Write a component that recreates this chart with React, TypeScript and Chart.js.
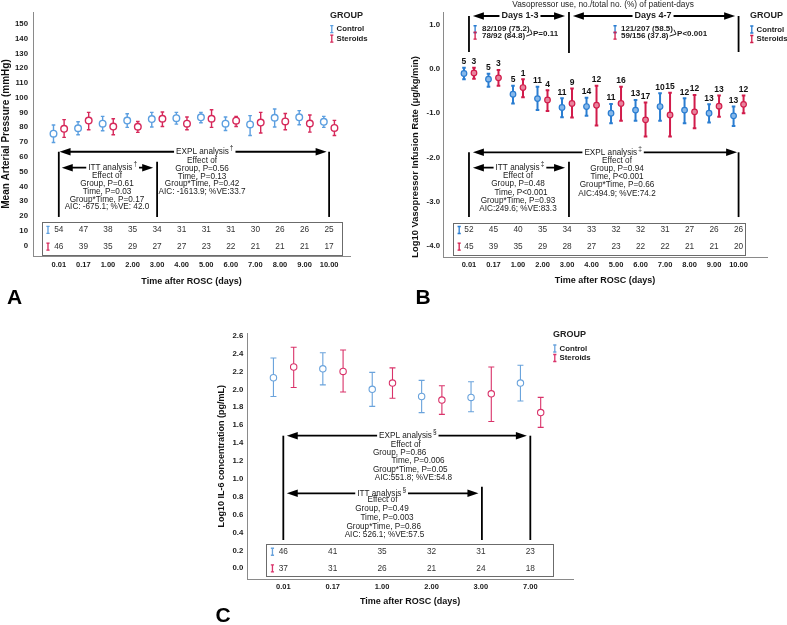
import React, { useEffect, useRef } from "react";
import { Chart, registerables } from "chart.js";

Chart.register(...registerables);

const W = 787;
const H = 625;
const FONT = '"Liberation Sans", Arial, Helvetica, sans-serif';

// ---------------- Panel A : Mean arterial pressure ----------------
const timeLabels12 = ["0.01", "0.17", "1.00", "2.00", "3.00", "4.00", "5.00", "6.00", "7.00", "8.00", "9.00", "10.00"];
const mapYTicks = [0, 10, 20, 30, 40, 50, 60, 70, 80, 90, 100, 110, 120, 130, 140, 150];
const mapControlMean = [75.7, 79.4, 82.5, 84.6, 85.6, 86.2, 86.8, 82.5, 82.0, 86.5, 86.8, 83.7];
const mapControlLow = [69.8, 75.0, 77.7, 80.0, 80.2, 82.2, 83.1, 77.9, 74.5, 80.2, 81.8, 80.0];
const mapControlHigh = [81.6, 83.8, 87.4, 89.2, 90.1, 90.1, 90.1, 87.0, 87.9, 92.4, 91.3, 87.4];
const mapSteroidMean = [79.0, 84.6, 80.5, 80.4, 85.8, 82.5, 85.8, 84.5, 83.2, 84.0, 82.6, 79.6];
const mapSteroidLow = [73.2, 78.4, 75.0, 76.6, 80.6, 78.4, 80.0, 80.6, 76.2, 78.4, 76.8, 74.5];
const mapSteroidHigh = [85.2, 90.1, 85.8, 84.0, 90.4, 87.0, 91.9, 87.4, 90.1, 89.4, 88.3, 84.7];
const mapControlN = [54, 47, 38, 35, 34, 31, 31, 31, 30, 26, 26, 25];
const mapSteroidN = [46, 39, 35, 29, 27, 27, 23, 22, 21, 21, 21, 17];
const mapIttText = ["Effect of", "Group, P=0.61", "Time, P=0.03", "Group*Time, P=0.17", "AIC: -675.1; %VE: 42.0"];
const mapExplText = ["Effect of", "Group, P=0.56", "Time, P=0.13", "Group*Time, P=0.42", "AIC: -1613.9; %VE:33.7"];

// ---------------- Panel B : Vasopressor infusion rate ----------------
const vpYTicks = [-4, -3, -2, -1, 0, 1];
const vpControlMean = [-0.10, -0.23, -0.57, -0.67, -0.87, -0.85, -1.00, -0.93, -0.85, -0.93, -1.00, -1.06];
const vpControlLow = [-0.23, -0.40, -0.78, -0.93, -1.09, -1.06, -1.23, -1.17, -1.17, -1.23, -1.21, -1.29];
const vpControlHigh = [0.03, -0.11, -0.38, -0.40, -0.66, -0.65, -0.79, -0.70, -0.55, -0.66, -0.80, -0.85];
const vpSteroidMean = [-0.09, -0.20, -0.42, -0.70, -0.78, -0.82, -0.78, -1.15, -1.04, -0.97, -0.84, -0.80];
const vpSteroidLow = [-0.22, -0.38, -0.64, -0.95, -1.10, -1.28, -1.17, -1.53, -1.53, -1.34, -1.08, -1.00];
const vpSteroidHigh = [0.03, -0.02, -0.23, -0.48, -0.44, -0.38, -0.40, -0.76, -0.54, -0.59, -0.60, -0.60];
const vpControlPointN = [5, 5, 5, 11, 11, 14, 11, 13, 10, 12, 13, 13];
const vpSteroidPointN = [3, 3, 1, 4, 9, 12, 16, 17, 15, 12, 13, 12];
const vpControlN = [52, 45, 40, 35, 34, 33, 32, 32, 31, 27, 26, 26];
const vpSteroidN = [45, 39, 35, 29, 28, 27, 23, 22, 22, 21, 21, 20];
const vpIttText = ["Effect of", "Group, P=0.48", "Time, P<0.001", "Group*Time, P=0.93", "AIC:249.6; %VE:83.3"];
const vpExplText = ["Effect of", "Group, P=0.94", "Time, P<0.001", "Group*Time, P=0.66", "AIC:494.9; %VE:74.2"];
const vpUseDays13 = ["82/109 (75.2)", "78/92 (84.8)", "P=0.11"];
const vpUseDays47 = ["121/207 (58.5)", "59/156 (37.8)", "P<0.001"];

// ---------------- Panel C : IL-6 ----------------
const il6Labels = ["0.01", "0.17", "1.00", "2.00", "3.00", "7.00"];
const il6YTicks = [0, 0.2, 0.4, 0.6, 0.8, 1.0, 1.2, 1.4, 1.6, 1.8, 2.0, 2.2, 2.4, 2.6];
const il6ControlMean = [2.13, 2.23, 2.00, 1.92, 1.91, 2.07];
const il6ControlLow = [1.92, 2.05, 1.81, 1.74, 1.75, 1.87];
const il6ControlHigh = [2.35, 2.41, 2.19, 2.10, 2.085, 2.27];
const il6SteroidMean = [2.25, 2.20, 2.07, 1.88, 1.95, 1.74];
const il6SteroidLow = [2.02, 1.97, 1.90, 1.72, 1.64, 1.575];
const il6SteroidHigh = [2.47, 2.44, 2.24, 2.04, 2.25, 1.91];
const il6ControlN = [46, 41, 35, 32, 31, 23];
const il6SteroidN = [37, 31, 26, 21, 24, 18];
const il6ExplText = ["Effect of", "Group, P=0.86", "Time, P=0.006", "Group*Time, P=0.05", "AIC:551.8; %VE:54.8"];
const il6IttText = ["Effect of", "Group, P=0.49", "Time, P=0.003", "Group*Time, P=0.86", "AIC: 526.1; %VE:57.5"];

// ---------------- drawing helpers ----------------
type C2D = CanvasRenderingContext2D;

function txt(ctx: C2D, s: string, x: number, y: number, font: string, color = "#1a1a1a", align: CanvasTextAlign = "center") {
  ctx.font = font;
  ctx.fillStyle = color;
  ctx.textAlign = align;
  ctx.textBaseline = "middle";
  ctx.fillText(s, x, y);
}

function seg(ctx: C2D, x1: number, y1: number, x2: number, y2: number, lw = 1.8, color = "#000") {
  ctx.strokeStyle = color;
  ctx.lineWidth = lw;
  ctx.beginPath();
  ctx.moveTo(x1, y1);
  ctx.lineTo(x2, y2);
  ctx.stroke();
}

function dblArrow(ctx: C2D, xa: number, xb: number, y: number, lw = 1.8) {
  const hl = 11;
  const hw = 3.8;
  seg(ctx, xa + hl - 1, y, xb - hl + 1, y, lw);
  ctx.fillStyle = "#000";
  ctx.beginPath();
  ctx.moveTo(xa, y);
  ctx.lineTo(xa + hl, y - hw);
  ctx.lineTo(xa + hl, y + hw);
  ctx.closePath();
  ctx.fill();
  ctx.beginPath();
  ctx.moveTo(xb, y);
  ctx.lineTo(xb - hl, y - hw);
  ctx.lineTo(xb - hl, y + hw);
  ctx.closePath();
  ctx.fill();
}

const NOTE_FONT = `8.2px ${FONT}`;

function arrowLabel(ctx: C2D, s: string, sup: string, cx: number, cy: number, font = NOTE_FONT) {
  const fs = `6.5px ${FONT}`;
  ctx.font = font;
  const w1 = ctx.measureText(s).width;
  ctx.font = fs;
  const w2 = sup ? ctx.measureText(sup).width : 0;
  const tw = w1 + w2 + (sup ? 1 : 0);
  const x0 = cx - tw / 2;
  ctx.fillStyle = "#fff";
  ctx.fillRect(x0 - 2, cy - 5, tw + 4, 10);
  txt(ctx, s, x0, cy, font, "#1a1a1a", "left");
  if (sup) txt(ctx, sup, x0 + w1 + 1, cy - 3.5, fs, "#1a1a1a", "left");
}

function textLines(ctx: C2D, lines: string[], cx: number, y0: number, step: number, dx: number[] = []) {
  lines.forEach((s, k) => txt(ctx, s, cx + (dx[k] || 0), y0 + k * step, NOTE_FONT));
}

function errIcon(ctx: C2D, x: number, y: number, color: string, h = 7) {
  ctx.strokeStyle = color;
  ctx.lineWidth = 1.3;
  ctx.beginPath();
  ctx.moveTo(x, y - h / 2);
  ctx.lineTo(x, y + h / 2);
  ctx.moveTo(x - 1.6, y - h / 2);
  ctx.lineTo(x + 1.6, y - h / 2);
  ctx.moveTo(x - 1.6, y + h / 2);
  ctx.lineTo(x + 1.6, y + h / 2);
  ctx.stroke();
}

function drawLegend(ctx: C2D, x: number, y: number, cCol: string, sCol: string) {
  txt(ctx, "GROUP", x, y, `bold 9px ${FONT}`, "#222", "left");
  errIcon(ctx, x + 1.8, y + 13.5, cCol);
  txt(ctx, "Control", x + 6.5, y + 13.5, `bold 7.8px ${FONT}`, "#222", "left");
  errIcon(ctx, x + 1.8, y + 23, sCol);
  txt(ctx, "Steroids", x + 6.5, y + 23, `bold 7.8px ${FONT}`, "#222", "left");
}

function drawTable(
  ctx: C2D, X: (v: number) => number, x1: number, x2: number, y1: number, y2: number,
  r1: number, r2: number, iconX: number, cN: number[], sN: number[], cCol: string, sCol: string
) {
  ctx.strokeStyle = "#6b6b6b";
  ctx.lineWidth = 1;
  ctx.strokeRect(Math.round(x1) + 0.5, Math.round(y1) + 0.5, Math.round(x2 - x1), Math.round(y2 - y1));
  errIcon(ctx, iconX, r1, cCol);
  errIcon(ctx, iconX, r2, sCol);
  cN.forEach((n, i) => txt(ctx, String(n), X(i), r1, `8.3px ${FONT}`, "#333"));
  sN.forEach((n, i) => txt(ctx, String(n), X(i), r2, `8.3px ${FONT}`, "#333"));
}

const errorBarPlugin = {
  id: "errbars",
  beforeDatasetsDraw(chart: any) {
    const ctx: C2D = chart.ctx;
    const xs = chart.scales.x;
    const ys = chart.scales.y;
    chart.data.datasets.forEach((ds: any) => {
      if (!ds.errLow) return;
      ctx.save();
      ctx.strokeStyle = ds.borderColor;
      ctx.lineWidth = ds.errWidth;
      const c = ds.errCap;
      ds.data.forEach((p: any, k: number) => {
        const x = xs.getPixelForValue(p.x);
        const y1 = ys.getPixelForValue(ds.errLow[k]);
        const y2 = ys.getPixelForValue(ds.errHigh[k]);
        ctx.beginPath();
        ctx.moveTo(x, y1);
        ctx.lineTo(x, y2);
        ctx.moveTo(x - c, y1);
        ctx.lineTo(x + c, y1);
        ctx.moveTo(x - c, y2);
        ctx.lineTo(x + c, y2);
        ctx.stroke();
      });
      ctx.restore();
    });
  },
};

function series(mean: number[], lo: number[], hi: number[], off: number, color: string, fill: string, r: number, bw: number, ew: number, cap: number) {
  return {
    type: "scatter",
    data: mean.map((m, i) => ({ x: i + off, y: m })),
    errLow: lo,
    errHigh: hi,
    errWidth: ew,
    errCap: cap,
    borderColor: color,
    backgroundColor: fill,
    pointBackgroundColor: fill,
    pointBorderColor: color,
    pointBorderWidth: bw,
    pointRadius: r,
    pointStyle: "circle",
    showLine: false,
  };
}

type Spec = {
  padding: { left: number; top: number; right: number; bottom: number };
  yWidth: number;
  xHeight: number;
  xMin: number;
  xMax: number;
  xLabels: string[];
  yMin: number;
  yMax: number;
  yTicks: number[];
  yFmt: (v: number) => string;
  yTitle: string;
  yTitleSize: number;
  yTitleAlign: "center" | "start";
  xTitle: string;
  xTickPad: number;
  yTickPad: number;
  datasets: any[];
  decorate: (ctx: C2D, X: (v: number) => number, Y: (v: number) => number) => void;
};

// ---------------- colours ----------------
const A_CTRL = "#5c9fe0";
const A_STER = "#d6285a";
const B_CTRL = "#2a7dd1";
const B_STER = "#d11c4b";
const C_CTRL = "#6aa3dc";
const C_STER = "#d9336a";

const specA: Spec = {
  padding: { left: 0, top: 12, right: W - 350, bottom: H - 287.1 },
  yWidth: 33,
  xHeight: 31.1,
  xMin: -1.05,
  xMax: 11.85,
  xLabels: timeLabels12,
  yMin: -7,
  yMax: 158,
  yTicks: mapYTicks,
  yFmt: (v) => String(v),
  yTitle: "Mean Arterial Pressure (mmHg)",
  yTitleSize: 10,
  yTitleAlign: "center",
  xTitle: "Time after ROSC (days)",
  xTickPad: 4.5,
  yTickPad: 5,
  datasets: [
    series(mapControlMean, mapControlLow, mapControlHigh, -0.216, A_CTRL, "#ffffff", 3.3, 1.4, 1.4, 1.8),
    series(mapSteroidMean, mapSteroidLow, mapSteroidHigh, 0.216, A_STER, "#ffffff", 3.3, 1.4, 1.4, 1.8),
  ],
  decorate: (ctx, X, Y) => {
    const yE = Y(63.5);
    const yI = Y(52.7);
    const yBot = Y(19.4);
    seg(ctx, X(0), yE, X(0), yBot);
    seg(ctx, X(11), yE, X(11), yBot);
    seg(ctx, X(4), Y(56.8), X(4), yBot);
    dblArrow(ctx, X(0.03), X(10.9), yE);
    arrowLabel(ctx, "EXPL analysis", "†", X(5.94), yE);
    dblArrow(ctx, X(0.12), X(3.84), yI);
    arrowLabel(ctx, "ITT analysis", "†", X(2.19), yI);
    textLines(ctx, mapIttText, X(1.96), Y(47.1), 7.75);
    textLines(ctx, mapExplText, X(5.83), Y(57.4), 7.75);
    drawTable(ctx, X, X(-0.684), X(11.52), Y(15.8), Y(-6.3), Y(10.6), Y(-0.7), X(-0.44), mapControlN, mapSteroidN, A_CTRL, A_STER);
    drawLegend(ctx, 330, 15.7, A_CTRL, A_STER);
    txt(ctx, "A", 14.5, 298, `bold 21px ${FONT}`, "#000");
  },
};

const specB: Spec = {
  padding: { left: 410, top: 12, right: W - 767, bottom: H - 286.4 },
  yWidth: 33,
  xHeight: 28.7,
  xMin: -1.06,
  xMax: 12.16,
  xLabels: timeLabels12,
  yMin: -4.27,
  yMax: 1.29,
  yTicks: vpYTicks,
  yFmt: (v) => v.toFixed(1),
  yTitle: "Log10 Vasopressor Infusion Rate (μg/kg/min)",
  yTitleSize: 9.4,
  yTitleAlign: "start",
  xTitle: "Time after ROSC (days)",
  xTickPad: 2.8,
  yTickPad: 3,
  datasets: [
    series(vpControlMean, vpControlLow, vpControlHigh, -0.204, B_CTRL, "#86b8ea", 2.8, 1.2, 2, 1.8),
    series(vpSteroidMean, vpSteroidLow, vpSteroidHigh, 0.204, B_STER, "#e8849d", 2.8, 1.2, 2, 1.8),
  ],
  decorate: (ctx, X, Y) => {
    // header
    txt(ctx, "Vasopressor use, no./total no. (%) of patient-days", 603, 5, `8.3px ${FONT}`, "#222");
    const yD = Y(1.2);
    seg(ctx, X(0), yD, X(0), Y(0.385));
    seg(ctx, X(4.08), Y(1.29), X(4.08), Y(0.36));
    seg(ctx, X(11), yD, X(11), Y(0.385));
    dblArrow(ctx, X(0.16), X(3.92), yD);
    arrowLabel(ctx, "Days 1-3", "", X(2.08), yD, `bold 9px ${FONT}`);
    dblArrow(ctx, X(4.24), X(10.86), yD);
    arrowLabel(ctx, "Days 4-7", "", X(7.51), yD, `bold 9px ${FONT}`);
    const useBlock = (lines: string[], iconI: number, textI: number, pI: number) => {
      const f = `bold 8px ${FONT}`;
      const y1 = Y(0.9);
      const y2 = Y(0.755);
      const yp = Y(0.79);
      errIcon(ctx, X(iconI), y1, B_CTRL);
      errIcon(ctx, X(iconI), y2, B_STER);
      txt(ctx, lines[0], X(textI), y1, f, "#1a1a1a", "left");
      txt(ctx, lines[1], X(textI), y2, f, "#1a1a1a", "left");
      ctx.font = f;
      const e1 = X(textI) + ctx.measureText(lines[0]).width;
      const e2 = X(textI) + ctx.measureText(lines[1]).width;
      seg(ctx, e1 + 1, y1 + 0.5, X(pI) - 1, yp, 1, "#222");
      seg(ctx, e2 + 1, y2 + 0.5, X(pI) - 1, yp, 1, "#222");
      txt(ctx, lines[2], X(pI), yp, f, "#1a1a1a", "left");
    };
    useBlock(vpUseDays13, 0.25, 0.53, 2.61);
    useBlock(vpUseDays47, 5.96, 6.2, 8.49);
    // n above points
    const nf = `bold 8.5px ${FONT}`;
    vpControlPointN.forEach((n, i) => txt(ctx, String(n), X(i - 0.204), Y(vpControlHigh[i]) - 6, nf, "#111"));
    vpSteroidPointN.forEach((n, i) => txt(ctx, String(n), X(i + 0.204), Y(vpSteroidHigh[i]) - 6, nf, "#111"));
    // analyses
    const yE = Y(-1.885);
    const yI = Y(-2.233);
    const yBot = Y(-3.35);
    seg(ctx, X(0), yE, X(0), yBot);
    seg(ctx, X(11), yE, X(11), yBot);
    seg(ctx, X(4.08), Y(-2.1), X(4.08), yBot);
    dblArrow(ctx, X(0.16), X(10.94), yE);
    arrowLabel(ctx, "EXPL analysis", "‡", X(5.88), yE);
    dblArrow(ctx, X(0.16), X(3.92), yI);
    arrowLabel(ctx, "ITT analysis", "‡", X(2.08), yI);
    textLines(ctx, vpIttText, X(2.0), Y(-2.415), 8.3, [0, 0, 3, 0, 0]);
    textLines(ctx, vpExplText, X(6.04), Y(-2.075), 8.15);
    drawTable(ctx, X, X(-0.65), X(11.27), Y(-3.478), Y(-4.193), Y(-3.643), Y(-4.021), X(-0.4), vpControlN, vpSteroidN, B_CTRL, B_STER);
    drawLegend(ctx, 750, 16, B_CTRL, B_STER);
    txt(ctx, "B", 423, 298, `bold 21px ${FONT}`, "#000");
  },
};

const specC: Spec = {
  padding: { left: 216, top: 333, right: W - 573, bottom: H - 607.1 },
  yWidth: 31.3,
  xHeight: 27.8,
  xMin: -0.729,
  xMax: 5.864,
  xLabels: il6Labels,
  yMin: -0.123,
  yMax: 2.63,
  yTicks: il6YTicks,
  yFmt: (v) => v.toFixed(1),
  yTitle: "Log10 IL-6 concentration (pg/mL)",
  yTitleSize: 9,
  yTitleAlign: "center",
  xTitle: "Time after ROSC (days)",
  xTickPad: 2.9,
  yTickPad: 4,
  datasets: [
    series(il6ControlMean, il6ControlLow, il6ControlHigh, -0.2, C_CTRL, "#ffffff", 3.2, 1.1, 1.1, 3),
    series(il6SteroidMean, il6SteroidLow, il6SteroidHigh, 0.21, C_STER, "#ffffff", 3.2, 1.1, 1.1, 3),
  ],
  decorate: (ctx, X, Y) => {
    const yE = Y(1.482);
    const yI = Y(0.838);
    const yBot = Y(0.316);
    seg(ctx, X(0), yE, X(0), yBot);
    seg(ctx, X(5), yE, X(5), yBot);
    seg(ctx, X(4.02), Y(0.912), X(4.02), yBot);
    dblArrow(ctx, X(0.07), X(4.93), yE);
    arrowLabel(ctx, "EXPL analysis", "§", X(2.52), yE);
    dblArrow(ctx, X(0.07), X(3.95), yI);
    arrowLabel(ctx, "ITT analysis", "§", X(1.99), yI);
    textLines(ctx, il6ExplText, X(2.55), Y(1.385), 8.35, [-3.5, -9.6, 8.7, 1, 4.2]);
    textLines(ctx, il6IttText, X(1.995), Y(0.763), 8.75, [0.6, 0.1, 5.1, 1.8, 2.6]);
    drawTable(ctx, X, X(-0.351), X(5.46), Y(0.272), Y(-0.086), Y(0.185), Y(0.0), X(-0.22), il6ControlN, il6SteroidN, C_CTRL, C_STER);
    drawLegend(ctx, 553, 335, C_CTRL, C_STER);
    txt(ctx, "C", 223, 616.5, `bold 21px ${FONT}`, "#000");
  },
};

function PanelChart({ spec }: { spec: Spec }) {
  const ref = useRef<HTMLCanvasElement>(null);
  useEffect(() => {
    const canvas = ref.current;
    if (!canvas) return;
    const tickFont = { family: FONT, size: 7.5, weight: "bold" as const };
    const chart = new Chart(canvas, {
      type: "scatter",
      data: { datasets: spec.datasets as any },
      options: {
        responsive: false,
        animation: false,
        devicePixelRatio: 1,
        events: [],
        layout: { padding: spec.padding },
        plugins: { legend: { display: false }, tooltip: { enabled: false }, title: { display: false } },
        scales: {
          x: {
            type: "linear",
            position: "bottom",
            min: spec.xMin,
            max: spec.xMax,
            afterBuildTicks: (s: any) => {
              s.ticks = spec.xLabels.map((_, i) => ({ value: i }));
            },
            afterFit: (s: any) => {
              s.height = spec.xHeight;
            },
            ticks: {
              autoSkip: false,
              maxRotation: 0,
              minRotation: 0,
              padding: spec.xTickPad,
              color: "#1a1a1a",
              font: tickFont,
              callback: (v: any) => spec.xLabels[Math.round(Number(v))] ?? "",
            },
            grid: { display: false, drawTicks: false },
            border: { display: true, color: "#8a8a8a", width: 1 },
            title: {
              display: true,
              text: spec.xTitle,
              color: "#111",
              font: { family: FONT, size: 9, weight: "bold" },
              padding: { top: 0, bottom: 0 },
            },
          },
          y: {
            type: "linear",
            position: "left",
            min: spec.yMin,
            max: spec.yMax,
            afterBuildTicks: (s: any) => {
              s.ticks = spec.yTicks.map((v) => ({ value: v }));
            },
            afterFit: (s: any) => {
              s.width = spec.yWidth;
            },
            ticks: {
              autoSkip: false,
              padding: spec.yTickPad,
              color: "#1a1a1a",
              font: { family: FONT, size: 7.8, weight: "bold" },
              callback: (v: any) => spec.yFmt(Number(v)),
            },
            grid: { display: false, drawTicks: false },
            border: { display: true, color: "#8a8a8a", width: 1 },
            title: {
              display: true,
              text: spec.yTitle,
              align: spec.yTitleAlign,
              color: "#111",
              font: { family: FONT, size: spec.yTitleSize, weight: "bold" },
              padding: { top: 0, bottom: 0 },
            },
          },
        },
      },
      plugins: [
        errorBarPlugin as any,
        {
          id: "decorations",
          afterDraw(chart: any) {
            const ctx: C2D = chart.ctx;
            const X = (v: number) => chart.scales.x.getPixelForValue(v);
            const Y = (v: number) => chart.scales.y.getPixelForValue(v);
            ctx.save();
            spec.decorate(ctx, X, Y);
            ctx.restore();
          },
        },
      ],
    });
    return () => chart.destroy();
  }, [spec]);
  return (
    <canvas
      ref={ref}
      width={W}
      height={H}
      style={{ position: "absolute", left: 0, top: 0, width: W, height: H }}
    />
  );
}

export default function App() {
  return (
    <div style={{ position: "absolute", left: 0, top: 0, width: W, height: H, background: "#fff", overflow: "hidden" }}>
      <PanelChart spec={specA} />
      <PanelChart spec={specB} />
      <PanelChart spec={specC} />
    </div>
  );
}
